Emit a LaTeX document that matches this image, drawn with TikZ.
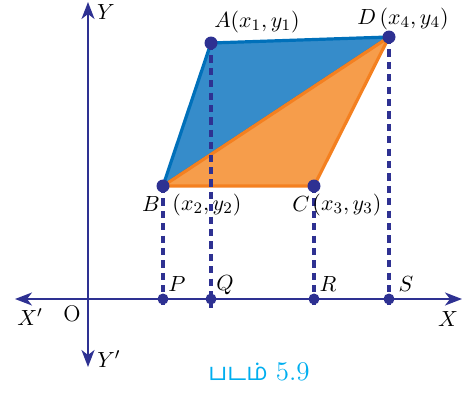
\documentclass[tikz,border=0pt]{standalone}
\usepackage{fontspec}
\newfontfamily\tamilfont[Script=Tamil]{Hind Madurai}
\usetikzlibrary{arrows.meta}
\definecolor{navy}{RGB}{46,49,146}
\definecolor{bluefill}{RGB}{54,140,202}
\definecolor{blueedge}{RGB}{0,112,186}
\definecolor{orangefill}{RGB}{246,157,75}
\definecolor{orangeedge}{RGB}{244,128,32}
\definecolor{capcyan}{RGB}{0,174,239}
\tikzset{
  dot/.style={circle,fill=navy,inner sep=0pt,minimum size=6.5pt},
  axdot/.style={circle,fill=navy,inner sep=0pt,minimum size=5.5pt},
  axisline/.style={navy,line width=1pt,{Stealth[length=8.5pt,width=6.5pt,inset=2.5pt]}-{Stealth[length=8.5pt,width=6.5pt,inset=2.5pt]}},
  dashline/.style={navy,line width=1.55pt,dash pattern=on 3.6pt off 2.6pt},
  lbl/.style={inner sep=0pt,font=\fontsize{11.3}{13}\selectfont},
  bluetri/.style={fill=bluefill,draw=blueedge,line width=1.6pt,line join=round},
  orangetri/.style={fill=orangefill,draw=orangeedge,line width=1.6pt,line join=round},
}
\begin{document}
\begin{tikzpicture}[x=0.5pt,y=-0.5pt]
\path[use as bounding box] (0,0) rectangle (467,392);
% points
\coordinate (A) at (211,43);
\coordinate (B) at (163,186);
\coordinate (C) at (314,186);
\coordinate (D) at (389,37);
\coordinate (P) at (163,299);
\coordinate (Q) at (211,299);
\coordinate (R) at (314,299);
\coordinate (S) at (389,299);
\coordinate (Pe) at (163,308);
\coordinate (Qe) at (211,308);
\coordinate (Re) at (314,308);
\coordinate (Se) at (389,308);
\coordinate (xl) at (15,299);
\coordinate (xr) at (462,299);
\coordinate (yt) at (88,2);
\coordinate (yb) at (88,367);
% regions
\draw[bluetri] (A) -- (B) -- (D) -- cycle;
\draw[orangetri] (B) -- (C) -- (D) -- cycle;
% dashed projections
\draw[dashline] (A) -- (Qe);
\draw[dashline] (B) -- (Pe);
\draw[dashline] (C) -- (Re);
\draw[dashline] (D) -- (Se);
% axes
\draw[axisline] (xl) -- (xr);
\draw[axisline] (yb) -- (yt);
% dots
\foreach \p in {A,B,C,D} \node[dot] (d\p) at (\p) {};
\foreach \p in {P,Q,R,S} \node[axdot] (d\p) at (\p) {};
% labels
\node[lbl] (lY) at (106,12) {$Y$};
\node[lbl] (lYp) at (109,359) {$Y'$};
\node[lbl] (lXp) at (30,317) {$X'$};
\node[lbl] (lX) at (448,319) {$X$};
\node[lbl] (lO) at (72,314) {O};
\node[lbl] (lA) at (257,22) {$A(x_1,y_1)$};
\node[lbl] (lD) at (403,19) {$D\,(x_4,y_4)$};
\node[lbl] (lB) at (151,204) {$B$};
\node[lbl] (lB2) at (207,205) {$(x_2,y_2)$};
\node[lbl] (lC) at (301,204) {$C$};
\node[lbl] (lC2) at (347,205) {$(x_3,y_3)$};
\node[lbl] (lP) at (177,284) {$P$};
\node[lbl] (lQ) at (225,285) {$Q$};
\node[lbl] (lR) at (328,284) {$R$};
\node[lbl] (lS) at (406,284) {$S$};
\node[inner sep=0pt,text=capcyan] (cap) at (259,372) {{\tamilfont\fontsize{12}{14}\selectfont படம்}\hspace{4pt}{\fontsize{13.5}{15}\selectfont 5.9}};
\end{tikzpicture}
\end{document}
